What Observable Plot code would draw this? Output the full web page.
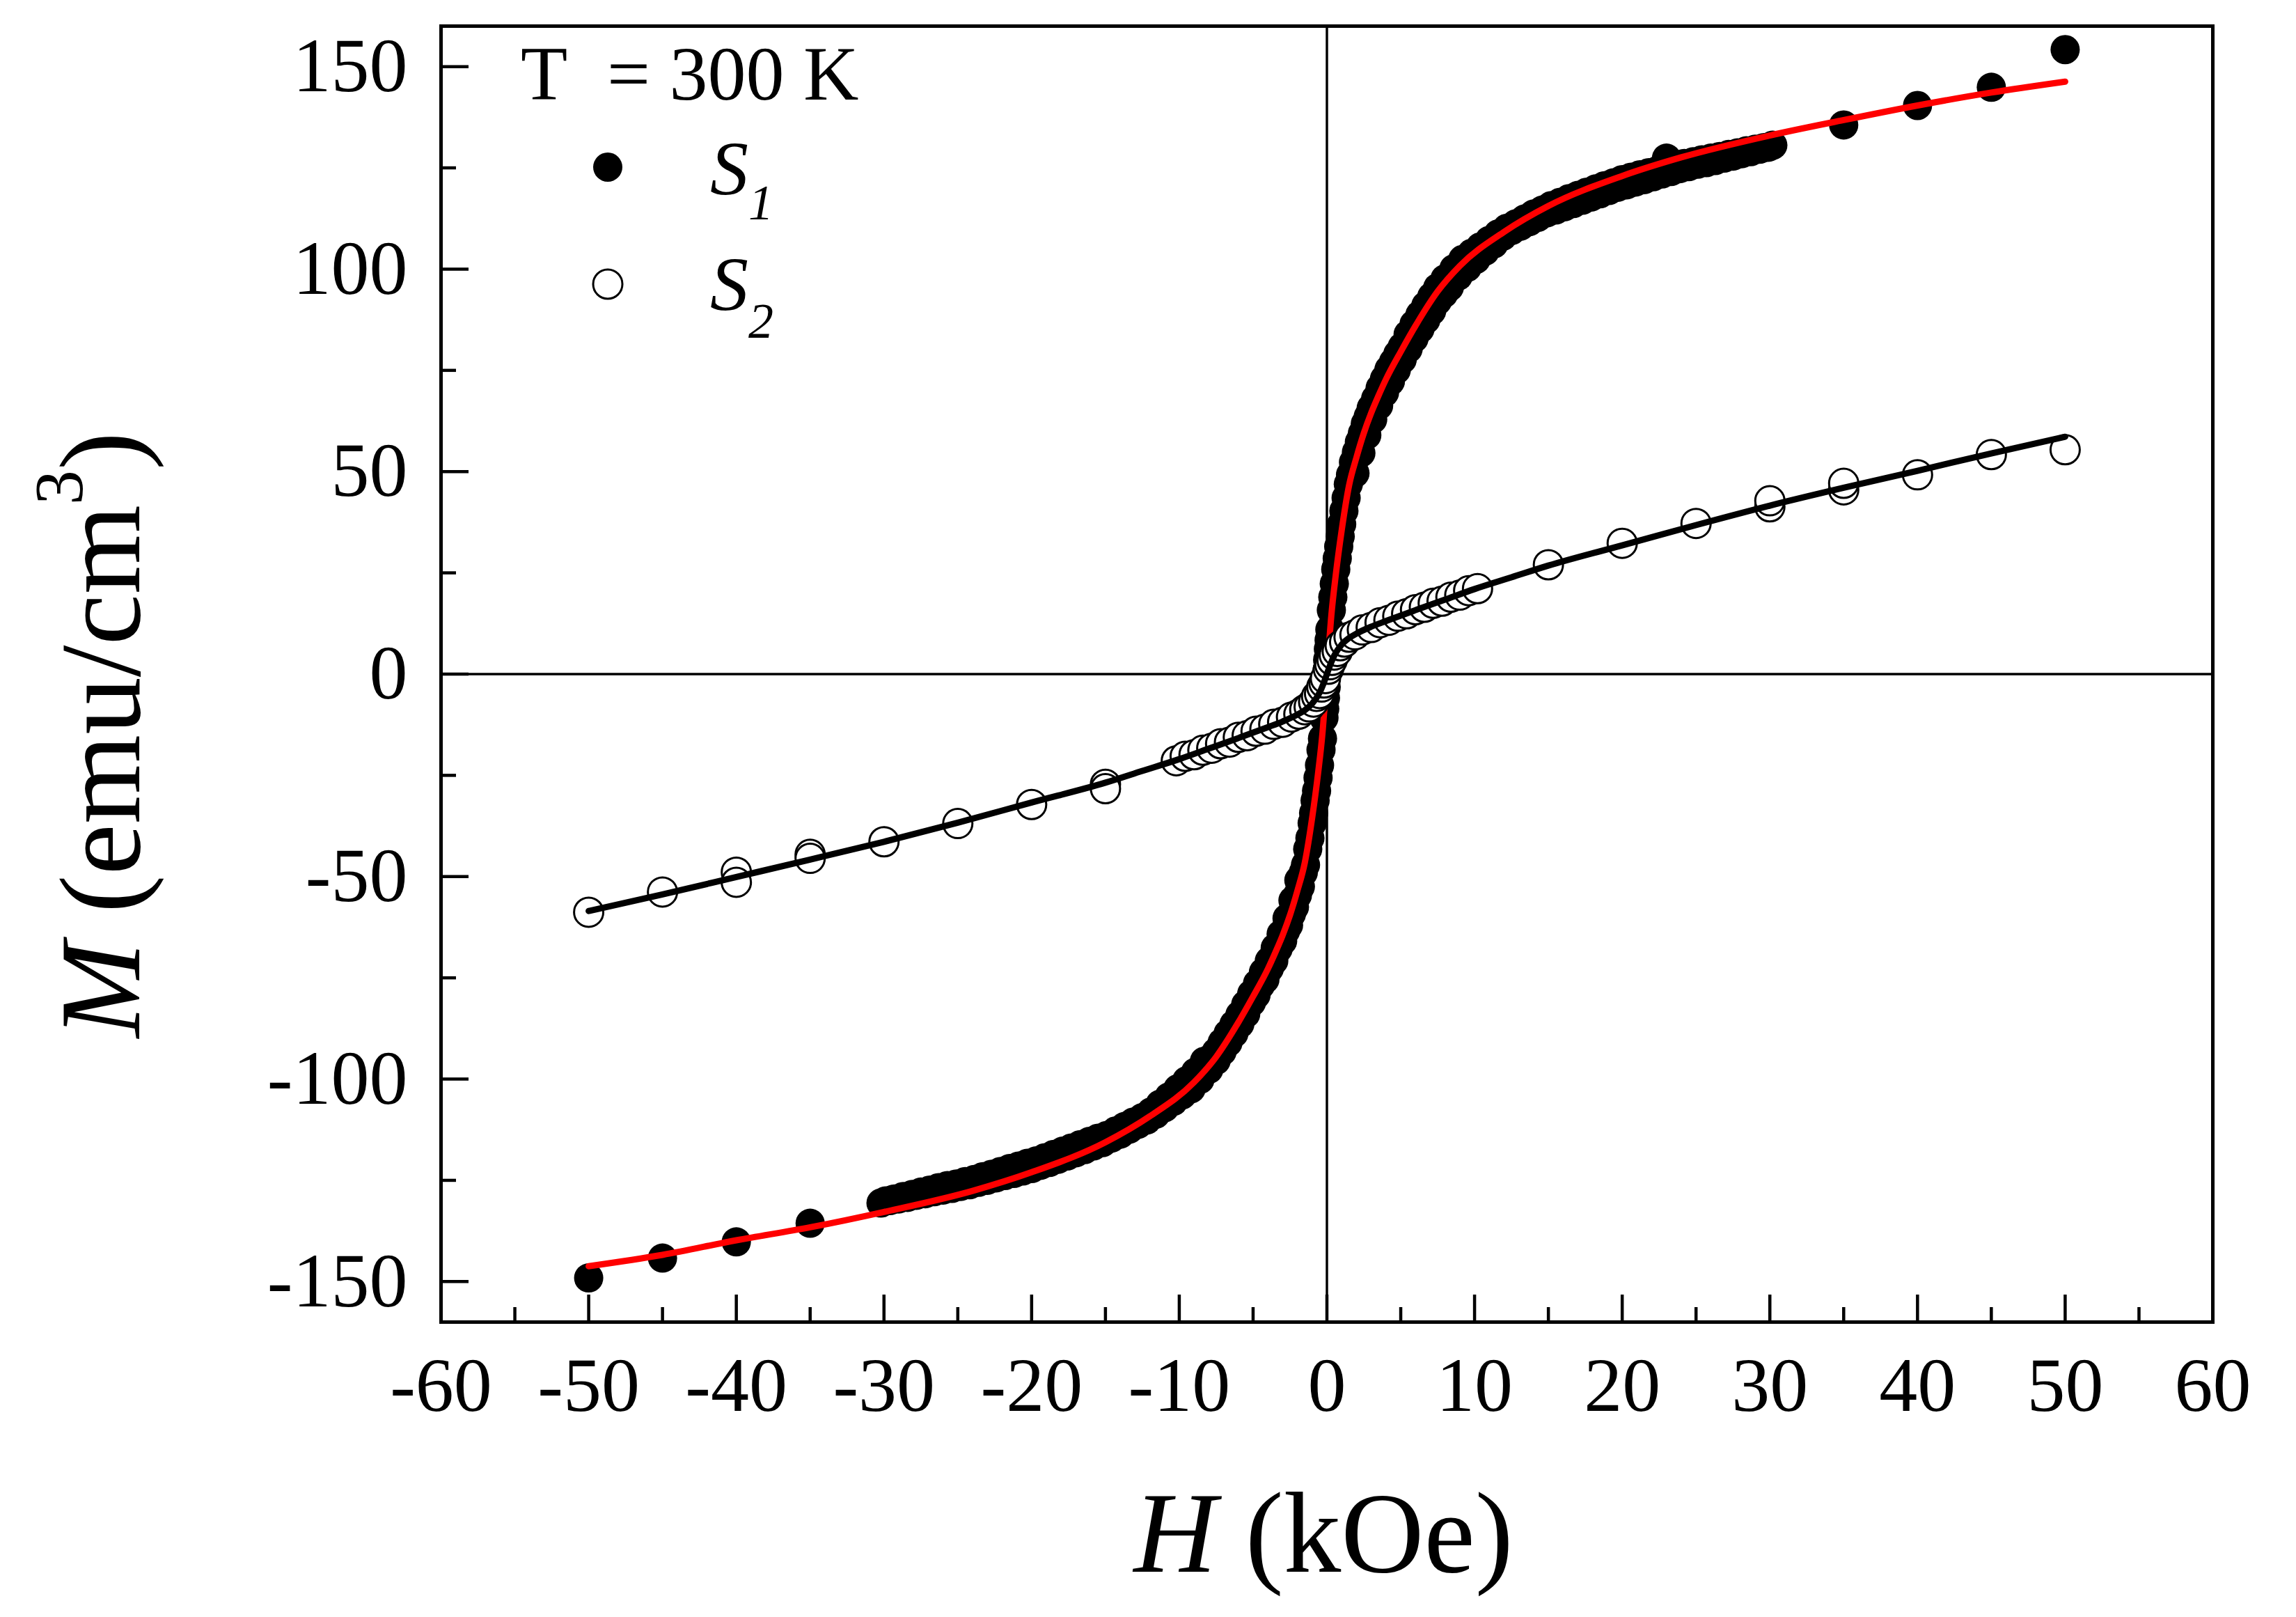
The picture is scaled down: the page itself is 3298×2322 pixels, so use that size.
<!DOCTYPE html>
<html><head><meta charset="utf-8">
<script src="https://cdn.jsdelivr.net/npm/d3@7"></script>
<script src="https://cdn.jsdelivr.net/npm/@observablehq/plot@0.6"></script>
<style>html,body{margin:0;padding:0;background:#fff;} svg{display:block}</style>
</head><body><div id="chart"></div>
<script>
// ---- axis ticks ----
const xTicks = [-60,-50,-40,-30,-20,-10,0,10,20,30,40,50,60];
const xMinor = [-55,-45,-35,-25,-15,-5,5,15,25,35,45,55];
const yTicks = [-150,-100,-50,0,50,100,150];
const yMinor = [-125,-75,-25,25,75,125];

// ---- S1 measured data (filled circles), first sweep ----
const s1H = [-50,-45,-40,-35,
  -30.2,-29.6,-29.0,-28.4,-27.8,-27.2,-26.6,-26.0,-25.4,-24.8,-24.2,-23.6,-23.0,-22.4,-21.8,-21.2,-20.6,-20.0,-19.4,-18.8,-18.2,-17.6,-17.0,-16.4,-15.8,-15.2,-14.6,-14.0,-13.4,-12.8,-12.2,-11.6,-11.0,-10.4,-9.8,-9.2,-8.6,-8.0,
  -7.5,-7.1,-6.7,-6.3,-5.9,-5.5,-5.1,-4.8,-4.5,-4.2,-3.9,-3.6,-3.3,-3.0,-2.8,-2.6,-2.4,-2.2,-2.0,-1.8,-1.6,-1.45,-1.3,-1.15,-1.0,
  -0.9,-0.8,-0.7,-0.6,-0.5,-0.4,-0.3,-0.2,-0.15,-0.1,-0.05,
  0,
  0.05,0.1,0.15,0.2,0.3,0.4,0.5,0.6,0.7,0.8,0.9,1.0,1.15,1.3,1.45,1.6,1.8,2.0,2.2,2.4,2.6,2.8,3.0,3.3,3.6,3.9,4.2,4.5,4.8,5.1,5.5,5.9,6.3,6.7,7.1,7.5,
  8.0,8.6,9.2,9.8,10.4,11.0,11.6,12.2,12.8,13.4,14.0,14.6,15.2,15.8,16.4,17.0,17.6,18.2,18.8,19.4,20.0,20.6,21.2,21.8,22.4,23.0,23.6,24.2,24.8,25.4,26.0,26.6,27.2,27.8,28.4,29.0,29.6,30.2,
  35,40,45,50];
const s1M = [-149.1,-144.2,-140.2,-135.6,
  -130.6,-130.0,-129.6,-129.2,-128.7,-128.3,-127.8,-127.4,-127.0,-126.5,-126.1,-125.5,-125.0,-124.4,-123.8,-123.3,-122.7,-122.1,-121.3,-120.6,-119.8,-119.0,-118.2,-117.4,-116.5,-115.7,-114.6,-113.6,-112.4,-111.2,-110.1,-108.7,-107.1,-105.5,-103.9,-102.4,-100.1,-97.6,
  -95.4,-93.2,-91.0,-88.7,-86.4,-83.9,-81.0,-79.2,-76.8,-75.4,-72.7,-70.8,-67.8,-65.9,-63.4,-62.0,-59.2,-57.5,-54.6,-52.5,-49.0,-47.1,-43.2,-40.5,-36.8,
  -34.3,-31.2,-28.8,-25.6,-22.5,-18.7,-15.9,-10.8,-8.6,-5.9,-3.2,
  0.8,
  3.5,6.2,8.4,11.0,15.8,19.0,22.3,25.9,28.6,31.5,34.0,37.0,40.3,43.5,46.9,49.2,52.3,54.8,57.3,59.4,61.8,63.6,65.7,68.0,70.6,72.9,75.2,77.0,79.0,80.8,83.9,86.4,88.7,91.0,93.2,95.4,
  97.6,100.1,102.4,103.9,105.5,107.1,108.7,110.1,111.2,112.4,113.6,114.6,115.7,116.5,117.4,118.2,119.0,119.8,120.6,121.3,122.1,122.7,123.3,123.8,124.4,127.4,125.5,126.1,126.5,127.0,127.4,127.8,128.3,128.7,129.2,129.6,130.0,130.6,
  135.6,140.4,144.9,154.2];

// ---- S1 measured data, return sweep ----
const s1bH = [-29.9,-29.3,-28.7,-28.1,-27.5,-26.9,-26.3,-25.7,-25.1,-24.5,-23.9,-23.3,-22.7,-22.1,-21.5,-20.9,-20.3,-19.7,-19.1,-18.5,-17.9,-17.3,-16.7,-16.1,-15.5,-14.9,-14.3,-13.7,-13.1,-12.5,-11.9,-11.3,-10.7,-10.1,-9.5,-8.9,-8.3,
  -7.9,-7.5,-7.1,-6.7,-6.3,-5.9,-5.5,-5.1,-4.7,-4.3,-3.9,-3.5,-3.1,-2.7,-2.3,-1.9,
  1.9,2.3,2.7,3.1,3.5,3.9,4.3,4.7,5.1,5.5,5.9,6.3,6.7,7.1,7.5,7.9,
  8.3,8.9,9.5,10.1,10.7,11.3,11.9,12.5,13.1,13.7,14.3,14.9,15.5,16.1,16.7,17.3,17.9,18.5,19.1,19.7,20.3,20.9,21.5,22.1,22.7,23.3,23.9,24.5,25.1,25.7,26.3,26.9,27.5,28.1,28.7,29.3,29.9];
const s1bM = [-130.1,-129.6,-129.0,-128.5,-127.9,-127.4,-126.8,-126.3,-125.9,-125.3,-124.8,-124.1,-123.5,-122.8,-122.1,-121.5,-120.8,-120.2,-119.4,-118.6,-117.8,-117.0,-116.2,-115.4,-114.6,-113.9,-112.8,-111.7,-110.6,-109.5,-108.1,-106.2,-104.4,-102.4,-100.4,-98.3,-95.6,
  -95.0,-93.3,-91.0,-88.8,-86.5,-84.2,-81.6,-79.0,-76.4,-73.6,-70.8,-67.6,-64.2,-60.3,-55.9,-50.9,
  49.6,54.6,59.0,62.9,66.3,69.5,72.3,75.1,77.7,80.3,82.9,85.2,87.5,89.7,92.2,93.9,
  95.6,98.3,100.4,102.4,104.4,106.2,108.1,109.5,110.6,111.7,112.8,113.9,114.6,115.4,116.2,117.0,117.8,118.6,119.4,120.2,120.8,121.5,122.1,122.8,123.5,124.1,124.8,125.3,125.9,126.3,126.8,127.4,127.9,128.5,129.0,129.6,130.1];

// ---- S1 fit (red line) ----
const fit1H = [-50,-45,-40,-35,-30,-24,-20,-15,-12,-9,-7.5,-6,-5,-4,-3.5,-3,-2.5,-2,-1.5,-1,-0.6,-0.3,0,0.3,0.6,1,1.5,2,2.5,3,3.5,4,5,6,7.5,9,12,15,20,24,30,35,40,45,50];
const fit1M = [-146.2,-143.4,-139.8,-136.6,-132.8,-127.6,-123,-115.6,-109.2,-100.8,-94.5,-86,-79.6,-72.8,-68.8,-64.5,-59.5,-53.5,-46.6,-35.5,-24.5,-14.5,0,14.5,24.5,35.5,46.6,53.5,59.5,64.5,68.8,72.8,79.6,86,94.5,100.8,109.2,115.6,123,127.6,133,136.8,140.4,143.6,146.3];

// ---- S2 measured data (open circles) ----
const s2H = [-50,-45,-40,-40,-35,-35,-30,-25,-20,-15,-15,
  -10.2,-9.6,-9.0,-8.4,-7.8,-7.2,-6.6,-6.0,-5.4,-4.8,-4.2,-3.6,-3.0,-2.4,-1.9,-1.5,-1.2,-0.9,-0.7,-0.5,-0.35,-0.2,-0.1,
  0.1,0.2,0.35,0.5,0.7,0.9,1.2,1.5,1.9,2.4,3.0,3.6,4.2,4.8,5.4,6.0,6.6,7.2,7.8,8.4,9.0,9.6,10.2,
  15,20,25,30,30,35,35,40,45,50];
const s2M = [-58.8,-53.8,-48.9,-51.4,-44.5,-45.5,-41.4,-36.9,-32.2,-27.2,-28.3,
  -21.4,-20.3,-19.9,-18.8,-18.3,-17.2,-16.8,-15.6,-15.2,-14.1,-13.6,-12.4,-11.9,-10.6,-9.9,-8.8,-8.1,-6.9,-5.5,-4.8,-3.2,-2.2,-1.1,
  1.2,2.3,3.4,4.7,5.6,7.0,7.9,9.1,9.7,10.9,11.5,12.7,13.3,14.3,14.9,15.9,16.5,17.5,18.0,19.0,19.5,20.6,21.1,
  27.0,32.3,37.2,41.3,42.8,45.5,47.1,49.2,54.2,55.4];

// ---- S2 fit (black line) ----
const fit2H = [-50,-45,-40,-35,-30,-25,-20,-15,-12.5,-10,-8,-6,-4,-3,-2,-1.5,-1,-0.5,-0.25,0,0.25,0.5,1,1.5,2,3,4,6,8,10,12.5,15,20,25,30,35,40,45,50];
const fit2M = [-58.5,-54.4,-50.1,-45.8,-41.4,-36.7,-31.7,-26.8,-23.9,-21.0,-18.4,-15.8,-13.1,-11.7,-10.0,-8.9,-7.3,-4.6,-2.5,0,2.5,4.6,7.3,8.9,10.0,11.7,13.1,15.8,18.4,21.0,23.9,26.8,31.8,36.8,41.6,46.0,50.2,54.5,58.6];

const zip = (hs, ms) => hs.map((h, i) => ({H: h, M: ms[i]}));
const s1 = zip(s1H, s1M).concat(zip(s1bH, s1bM)), s2 = zip(s2H, s2M);
const fit1 = zip(fit1H, fit1M), fit2 = zip(fit2H, fit2M);

const W = 3298, HT = 2322, mL = 633, mR = 120, mT = 37, mB = 424;
const plotW = W - mL - mR, plotH = HT - mT - mB;
const serif = "'Liberation Serif','Times New Roman',serif";

const chart = Plot.plot({
  width: W, height: HT,
  marginLeft: mL, marginRight: mR, marginTop: mT, marginBottom: mB,
  style: {fontFamily: serif, fontSize: "110px", background: "#fff", color: "#000"},
  x: {domain: [-60, 60]},
  y: {domain: [-160, 160]},
  marks: [
    Plot.ruleX([0], {stroke: "#000", strokeWidth: 3.5}),
    Plot.ruleY([0], {stroke: "#000", strokeWidth: 3.5}),
    Plot.dot(s1, {x: "H", y: "M", r: 21, fill: "#000", stroke: "none"}),
    Plot.line(fit1, {x: "H", y: "M", stroke: "#ff0000", strokeWidth: 9, curve: "monotone-x", strokeLinecap: "round"}),
    Plot.dot(s2, {x: "H", y: "M", r: 21, fill: "#fff", stroke: "#000", strokeWidth: 3}),
    Plot.line(fit2, {x: "H", y: "M", stroke: "#000", strokeWidth: 9, curve: "monotone-x", strokeLinecap: "round"}),
    Plot.tickY(yTicks, {y: d => d, insetRight: plotW - 40, stroke: "#000", strokeWidth: 4.5}),
    Plot.tickY(yMinor, {y: d => d, insetRight: plotW - 22, stroke: "#000", strokeWidth: 4.5}),
    Plot.tickX(xTicks, {x: d => d, insetTop: plotH - 39, stroke: "#000", strokeWidth: 4.5}),
    Plot.tickX(xMinor, {x: d => d, insetTop: plotH - 21, stroke: "#000", strokeWidth: 4.5}),
    Plot.frame({stroke: "#000", strokeWidth: 5}),
    Plot.axisX(xTicks, {tickSize: 0, tickPadding: 49, tickFormat: d => String(d), label: null}),
    Plot.axisY(yTicks, {tickSize: 0, tickPadding: 48, tickFormat: d => String(d), label: null})
  ]
});
document.getElementById("chart").appendChild(chart);

// ---- axis titles and legend ----
const svg = d3.select(chart);
const xt = svg.append("text").attr("x", 1901).attr("y", 2257).attr("text-anchor", "middle")
  .attr("font-family", serif).attr("font-size", 165).attr("fill", "#000");
xt.append("tspan").attr("font-style", "italic").text("H");
xt.append("tspan").text(" (kOe)");

const yt = svg.append("text").attr("transform", "translate(200,1055) rotate(-90)").attr("text-anchor", "middle")
  .attr("font-family", serif).attr("font-size", 165).attr("fill", "#000");
yt.append("tspan").attr("font-style", "italic").text("M");
yt.append("tspan").text(" (emu/cm");
yt.append("tspan").attr("font-size", 100).attr("dy", -82).text("3");
yt.append("tspan").attr("dy", 82).text(")");

const lg = svg.append("g").attr("font-family", serif).attr("fill", "#000").attr("text-anchor", "start");
lg.append("text").attr("x", 748).attr("y", 143).attr("font-size", 110).attr("text-anchor", "start").text("T");
lg.append("text").attr("x", 872).attr("y", 143).attr("font-size", 110).attr("text-anchor", "start").text("= 300 K");
lg.append("circle").attr("cx", 873).attr("cy", 240).attr("r", 21).attr("fill", "#000");
lg.append("circle").attr("cx", 873).attr("cy", 408).attr("r", 21).attr("fill", "#fff").attr("stroke", "#000").attr("stroke-width", 3);
const l1 = lg.append("text").attr("x", 1020).attr("y", 279).attr("font-size", 110).attr("font-style", "italic").attr("text-anchor", "start");
l1.append("tspan").text("S");
l1.append("tspan").attr("font-size", 72).attr("dy", 36).text("1");
const l2 = lg.append("text").attr("x", 1020).attr("y", 445).attr("font-size", 110).attr("font-style", "italic").attr("text-anchor", "start");
l2.append("tspan").text("S");
l2.append("tspan").attr("font-size", 72).attr("dy", 40).text("2");
</script>
</body></html>
